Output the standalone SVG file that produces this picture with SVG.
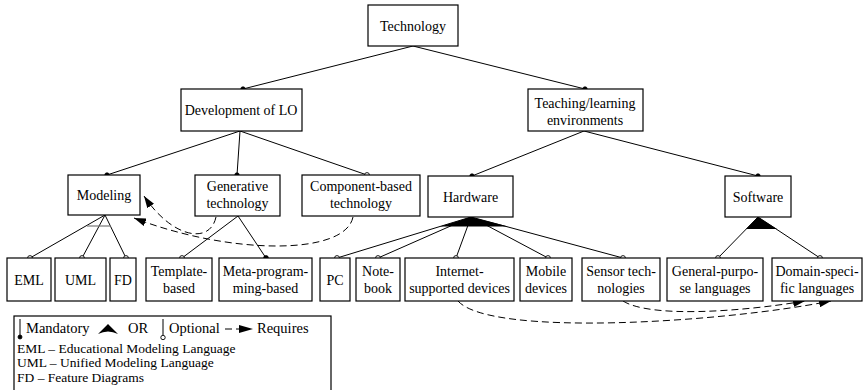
<svg xmlns="http://www.w3.org/2000/svg" width="867" height="390" viewBox="0 0 867 390" font-family="'Liberation Serif','Times New Roman',serif">
<defs>
<style>
.box{fill:#fff;stroke:#000;stroke-width:1.2}
.lbl{font-family:'Liberation Serif','Times New Roman',serif;font-size:14px;fill:#000;text-anchor:middle}
.leg{font-family:'Liberation Serif','Times New Roman',serif;font-size:14.5px;fill:#000}
.leg2{font-family:'Liberation Serif','Times New Roman',serif;font-size:13.5px;fill:#000}
.ln{stroke:#000;stroke-width:1;fill:none}
.dash{stroke:#000;stroke-width:1;fill:none;stroke-dasharray:7,4}
.md{fill:#000;stroke:#000;stroke-width:0.8}
.op{fill:#fff;stroke:#000;stroke-width:0.9}
</style>
<marker id="arr" viewBox="0 0 12 8" refX="12" refY="4" markerWidth="12" markerHeight="8" markerUnits="userSpaceOnUse" orient="auto">
<path d="M0,0 L12,4 L0,8 Z" fill="#000"/>
</marker>
</defs>
<rect width="867" height="390" fill="#fff"/>

<g id="connectors">
<line class="ln" x1="413" y1="46" x2="243" y2="89"/>
<line class="ln" x1="413" y1="46" x2="585" y2="89"/>
<line class="ln" x1="240" y1="131" x2="107" y2="175"/>
<line class="ln" x1="240" y1="131" x2="237" y2="175"/>
<line class="ln" x1="240" y1="131" x2="367" y2="175"/>
<line class="ln" x1="584" y1="131" x2="472" y2="176"/>
<line class="ln" x1="584" y1="131" x2="758" y2="176"/>
<line class="ln" x1="105" y1="215" x2="30" y2="258"/>
<line class="ln" x1="105" y1="215" x2="82" y2="258"/>
<line class="ln" x1="105" y1="215" x2="126" y2="258"/>
<line x1="87" y1="226" x2="111" y2="226" stroke="#777" stroke-width="1.2"/>
<line class="ln" x1="238" y1="216" x2="182" y2="258"/>
<line class="ln" x1="238" y1="216" x2="266" y2="258"/>
<line class="ln" x1="471" y1="217" x2="337" y2="258"/>
<line class="ln" x1="471" y1="217" x2="378" y2="258"/>
<line class="ln" x1="471" y1="217" x2="456" y2="258"/>
<line class="ln" x1="471" y1="217" x2="548" y2="258"/>
<line class="ln" x1="471" y1="217" x2="623" y2="258"/>
<polygon points="471,217 440,226.5 508,226.5" fill="#000"/>
<line class="ln" x1="758" y1="217" x2="718" y2="258"/>
<line class="ln" x1="758" y1="217" x2="820" y2="258"/>
<polygon points="758,217 746,229 777,229" fill="#000"/>
<path class="dash" d="M216,217 C210,245 172,238 144,196" marker-end="url(#arr)"/>
<path class="dash" d="M353,217 C345,256 230,255 134,218" marker-end="url(#arr)"/>
<path class="dash" d="M458,301 C490,337 720,323 831,301" marker-end="url(#arr)"/>
<path class="dash" d="M623,301 C650,318 740,312 805,301" marker-end="url(#arr)"/>
<circle class="md" cx="243" cy="89" r="2.2"/>
<circle class="md" cx="585" cy="89" r="2.2"/>
<circle class="md" cx="107" cy="175" r="2.2"/>
<circle class="md" cx="237" cy="175" r="2.2"/>
<circle class="op" cx="367" cy="175" r="2.4"/>
<circle class="md" cx="472" cy="176" r="2.2"/>
<circle class="md" cx="758" cy="176" r="2.2"/>
<circle class="op" cx="30" cy="258" r="2.4"/>
<circle class="op" cx="82" cy="258" r="2.4"/>
<circle class="op" cx="126" cy="258" r="2.4"/>
<circle class="op" cx="182" cy="258" r="2.4"/>
<circle class="md" cx="266" cy="258" r="2.4"/>
<circle class="op" cx="337" cy="258" r="2.4"/>
<circle class="op" cx="378" cy="258" r="2.4"/>
<circle class="op" cx="456" cy="258" r="2.4"/>
<circle class="op" cx="548" cy="258" r="2.4"/>
<circle class="op" cx="623" cy="258" r="2.4"/>
<circle class="op" cx="718" cy="258" r="2.4"/>
<circle class="op" cx="820" cy="258" r="2.4"/>
</g>

<g id="technology"><rect class="box" x="368" y="5" width="90" height="41"/><text class="lbl" x="413" y="30.5">Technology</text></g>
<g id="development"><rect class="box" x="181" y="89" width="121" height="42"/><text class="lbl" x="241" y="114.5">Development of LO</text></g>
<g id="teaching"><rect class="box" x="528" y="89" width="115" height="42"/><text class="lbl" x="585" y="108">Teaching/learning</text><text class="lbl" x="585" y="125">environments</text></g>
<g id="modeling"><rect class="box" x="68" y="175" width="72" height="40"/><text class="lbl" x="104" y="199.5">Modeling</text></g>
<g id="generative"><rect class="box" x="195" y="175" width="85" height="41"/><text class="lbl" x="237.5" y="191">Generative</text><text class="lbl" x="237.5" y="208">technology</text></g>
<g id="component"><rect class="box" x="302" y="175" width="118" height="41"/><text class="lbl" x="361" y="191">Component-based</text><text class="lbl" x="361" y="208">technology</text></g>
<g id="hardware"><rect class="box" x="428" y="176" width="85" height="41"/><text class="lbl" x="470.5" y="201.5">Hardware</text></g>
<g id="software"><rect class="box" x="725" y="176" width="66" height="41"/><text class="lbl" x="758" y="201.5">Software</text></g>

<g id="eml"><rect class="box" x="7" y="258" width="44" height="43"/><text class="lbl" x="29" y="284.5">EML</text></g>
<g id="uml"><rect class="box" x="55" y="258" width="51" height="43"/><text class="lbl" x="80.5" y="284.5">UML</text></g>
<g id="fd"><rect class="box" x="110" y="258" width="26" height="43"/><text class="lbl" x="123" y="284.5">FD</text></g>
<g id="template"><rect class="box" x="146" y="258" width="66" height="43"/><text class="lbl" x="179" y="276">Template-</text><text class="lbl" x="179" y="293">based</text></g>
<g id="metaprog"><rect class="box" x="219" y="258" width="93" height="43"/><text class="lbl" x="265.5" y="276">Meta-program-</text><text class="lbl" x="265.5" y="293">ming-based</text></g>
<g id="pc"><rect class="box" x="320" y="258" width="30" height="43"/><text class="lbl" x="335" y="284.5">PC</text></g>
<g id="notebook"><rect class="box" x="356" y="258" width="44" height="43"/><text class="lbl" x="378" y="276">Note-</text><text class="lbl" x="378" y="293">book</text></g>
<g id="internet"><rect class="box" x="405" y="258" width="109" height="43"/><text class="lbl" x="459.5" y="276">Internet-</text><text class="lbl" x="459.5" y="293">supported devices</text></g>
<g id="mobile"><rect class="box" x="520" y="258" width="52" height="43"/><text class="lbl" x="546" y="276">Mobile</text><text class="lbl" x="546" y="293">devices</text></g>
<g id="sensor"><rect class="box" x="582" y="258" width="78" height="43"/><text class="lbl" x="621" y="276">Sensor tech-</text><text class="lbl" x="621" y="293">nologies</text></g>
<g id="general"><rect class="box" x="667" y="258" width="96" height="43"/><text class="lbl" x="715" y="276">General-purpo-</text><text class="lbl" x="715" y="293">se languages</text></g>
<g id="domain"><rect class="box" x="772" y="258" width="90" height="43"/><text class="lbl" x="817" y="276">Domain-speci-</text><text class="lbl" x="817" y="293">fic languages</text></g>

<g id="legend">
<rect class="box" x="14" y="316" width="317" height="80"/>
<line class="ln" x1="20" y1="319" x2="20" y2="336"/>
<circle class="md" cx="20" cy="337" r="2"/>
<text class="leg" x="26" y="333">Mandatory</text>
<path d="M98,334 L108,324 L118,334 Q108,329 98,334 Z" fill="#000"/>
<text class="leg" x="128" y="333">OR</text>
<line class="ln" x1="163" y1="319" x2="163" y2="335"/>
<circle class="op" cx="163" cy="337.5" r="2.2"/>
<text class="leg" x="169" y="333">Optional</text>
<line class="dash" x1="225" y1="329" x2="242" y2="329"/>
<path d="M239,325 L253,329 L239,333 Z" fill="#000"/>
<text class="leg" x="257" y="333">Requires</text>
<text class="leg2" x="17" y="352.5">EML – Educational Modeling Language</text>
<text class="leg2" x="17" y="367">UML – Unified Modeling Language</text>
<text class="leg2" x="17" y="381.5">FD – Feature Diagrams</text>
</g>
</svg>
